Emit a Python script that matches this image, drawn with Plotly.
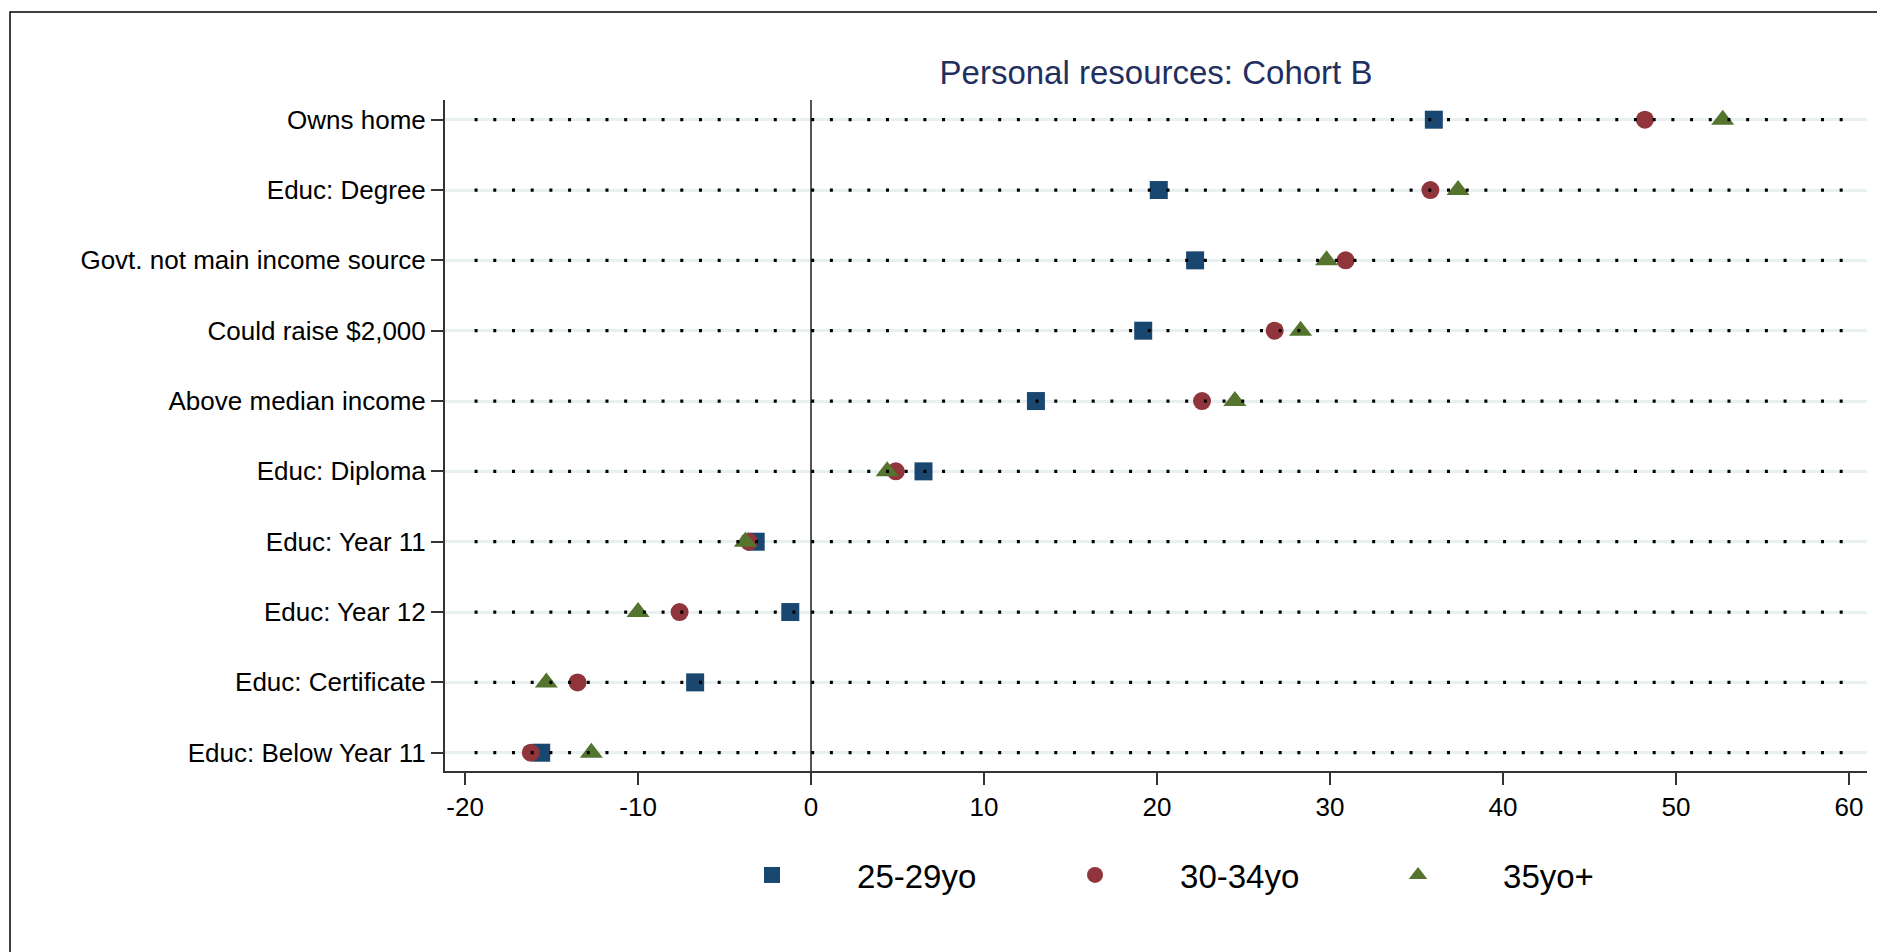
import plotly.graph_objects as go

categories = ["Educ: Below Year 11", "Educ: Certificate", "Educ: Year 12", "Educ: Year 11",
              "Educ: Diploma", "Above median income", "Could raise $2,000",
              "Govt. not main income source", "Educ: Degree", "Owns home"]
s_25_29 = [-15.6, -6.7, -1.2, -3.2, 6.5, 13.0, 19.2, 22.2, 20.1, 36.0]
s_30_34 = [-16.2, -13.5, -7.6, -3.6, 4.9, 22.6, 26.8, 30.9, 35.8, 48.2]
s_35plus = [-12.7, -15.3, -10.0, -3.8, 4.4, 24.5, 28.3, 29.8, 37.4, 52.7]
series_names = ["25-29yo", "30-34yo", "35yo+"]
x_ticks = [-20, -10, 0, 10, 20, 30, 40, 50, 60]

FONT = "Liberation Sans, Arial, sans-serif"
W, H = 1877, 944
L, R, T, B = 437, 18, 92, 181
pw, ph = W - L - R, H - T - B

fig = go.Figure()
styles = [("square", "#1a476f", 18), ("circle", "#90353b", 18), ("triangle-up", "#55752f", 20)]
for name, vals, (sym, col, sz) in zip(series_names, [s_25_29, s_30_34, s_35plus], styles):
    fig.add_trace(go.Scatter(x=vals, y=categories, mode="markers", name=name,
                             marker=dict(symbol=sym, color=col, size=sz, line=dict(width=0))))

# dotted row lines drawn above markers
for c in categories:
    fig.add_shape(type="line", xref="x", yref="y", x0=-19.45, x1=59.9, y0=c, y1=c,
                  line=dict(color="black", width=3.2, dash="3px,15.7px"), layer="above")

# outer frame
fig.add_shape(type="rect", xref="paper", yref="paper",
              x0=(2 - L) / pw, x1=(W + 30 - L) / pw,
              y0=(H - B - (H + 30)) / ph, y1=(H - B - 4) / ph,
              line=dict(color="black", width=1.5), fillcolor="rgba(0,0,0,0)", layer="below")

fig.update_layout(
    width=W, height=H,
    margin=dict(l=L, r=R, t=T, b=B),
    paper_bgcolor="white", plot_bgcolor="white",
    font=dict(family=FONT, color="black"),
    title=dict(text="Personal resources: Cohort B", x=0.5, xref="paper", xanchor="center",
               y=1 - 64 / H, yanchor="middle",
               font=dict(size=33, color="#1f2f5f", family=FONT)),
    showlegend=True,
    legend=dict(orientation="h", x=0.1702, xanchor="left", y=-0.155, yanchor="middle",
                font=dict(size=33, family=FONT), itemwidth=160,
                entrywidth=148, entrywidthmode="pixels", bgcolor="rgba(0,0,0,0)"),
    xaxis=dict(range=[-21.16, 61.04], tickvals=x_ticks, ticktext=[str(v) for v in x_ticks],
               showgrid=False, zeroline=True, zerolinecolor="#555555", zerolinewidth=1.5,
               showline=True, linecolor="#333333", linewidth=2,
               ticks="outside", ticklen=12, tickwidth=1.5, tickcolor="#333333",
               tickfont=dict(size=26, family=FONT, color="black")),
    yaxis=dict(type="category", categoryorder="array", categoryarray=categories,
               range=[-0.26, 9.28], showgrid=True, gridcolor="#e8f0f2", gridwidth=3,
               zeroline=False, showline=True, linecolor="#333333", linewidth=2,
               ticks="outside", ticklen=12, tickwidth=1.5, tickcolor="#333333",
               tickfont=dict(size=26, family=FONT, color="black")),
)

fig.write_html("out.html")
